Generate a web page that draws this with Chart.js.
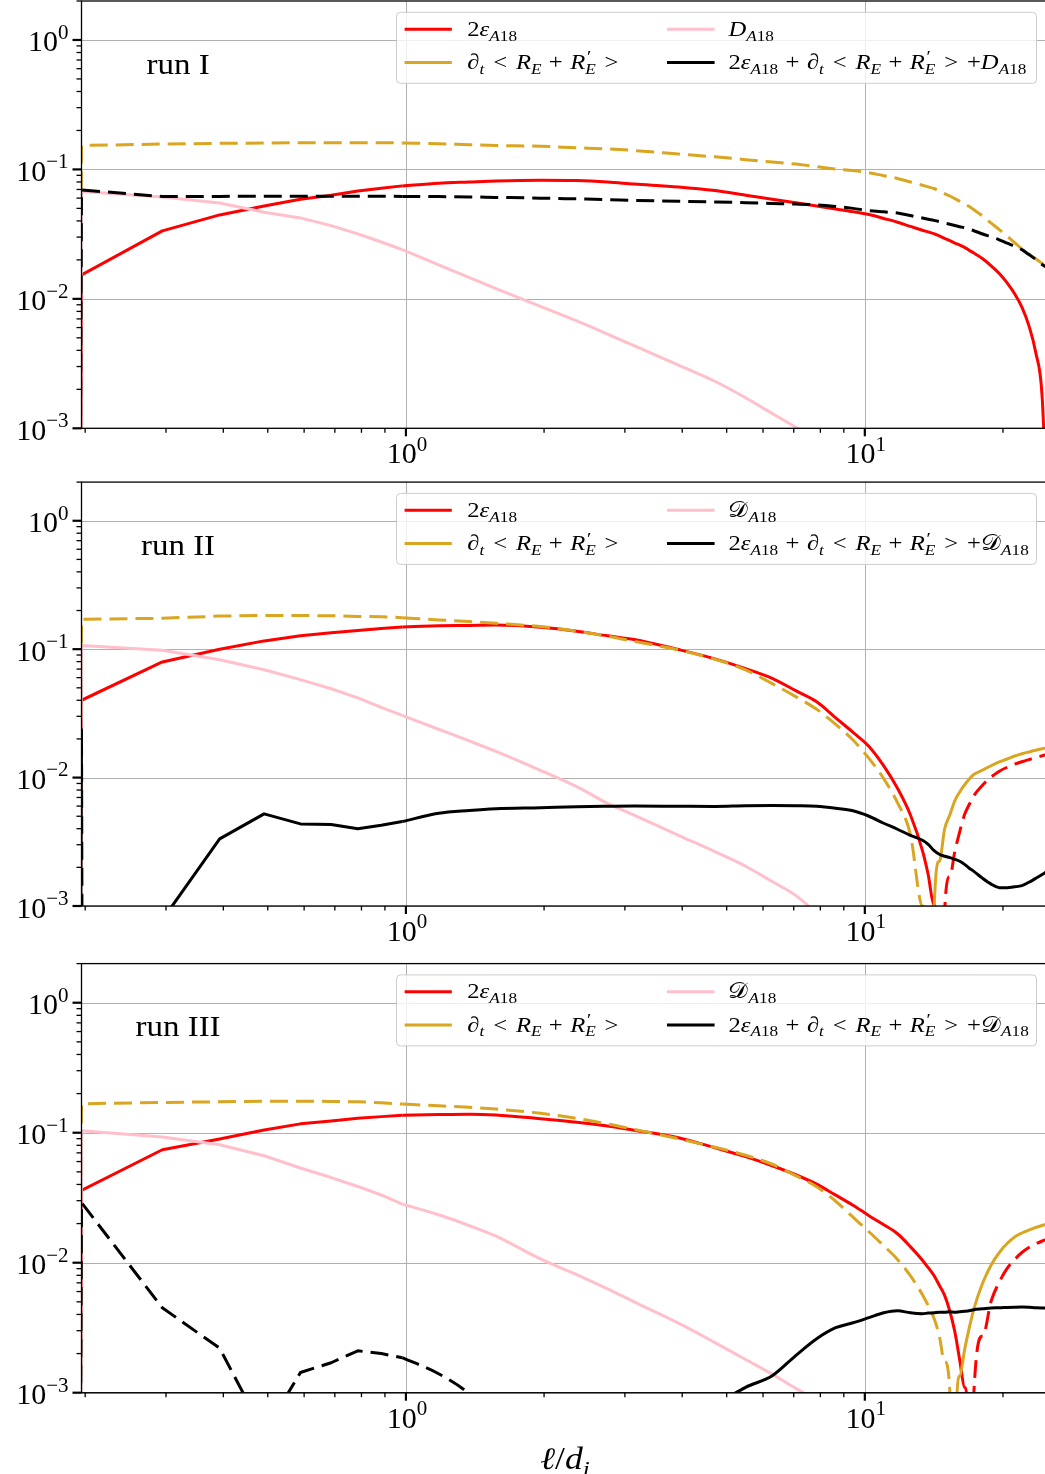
<!DOCTYPE html>
<html>
<head>
<meta charset="utf-8">
<title>Scale-by-scale energy budget, runs I-III</title>
<script src="https://cdn.jsdelivr.net/npm/chart.js@4.4.1/dist/chart.umd.min.js"></script>
<style>
  html, body { margin: 0; padding: 0; background: #ffffff; overflow: hidden; }
  body { position: relative; width: 1045px; height: 1474px; }
  .panel { position: absolute; left: 0; }
  canvas { display: block; }
</style>
</head>
<body>
<div class="panel" id="wrap1" style="top:0px"><canvas id="run1" width="1050" height="479"></canvas></div>
<div class="panel" id="wrap2" style="top:480px"><canvas id="run2" width="1050" height="476"></canvas></div>
<div class="panel" id="wrap3" style="top:960px"><canvas id="run3" width="1050" height="514"></canvas></div>
<script>
// ---- data -------------------------------------------------------------
// increment scale ell / d_i (k * pi / 32)
const ell = [0.09817, 0.19635, 0.29452, 0.39270, 0.49087, 0.58905, 0.68722, 0.78540, 0.88357, 0.98175,
  1.1781, 1.3744, 1.5708, 1.9635, 2.3562, 2.7489, 3.1416,
  3.9270, 4.7124, 5.4978, 6.2832, 7.0686, 7.8540, 8.6394, 9.4248,
  10.210, 10.996, 11.781, 12.566, 13.352,
  13.744, 14.137, 14.530, 14.923, 15.315, 15.708, 16.101, 16.493, 16.886, 17.279,
  18.064, 18.850, 19.635, 20.420, 21.206, 21.991, 22.777, 23.562, 24.347, 25.133];

// run I
const eps1 = [0, 0.0153, 0.0335, 0.0445, 0.0522, 0.0589, 0.0631, 0.0682, 0.0714, 0.0746,
  0.0782, 0.0800, 0.0815, 0.0826, 0.0820, 0.0799, 0.0771,
  0.0732, 0.0686, 0.0632, 0.0589, 0.0553, 0.0522, 0.0495, 0.0472,
  0.0448, 0.0418, 0.0391, 0.0363, 0.0339,
  0.0329, 0.0319, 0.0306, 0.0293, 0.0282, 0.0270, 0.0260, 0.0250, 0.0237, 0.0226,
  0.0204, 0.0180, 0.0157, 0.0133, 0.01094, 0.00864, 0.00621, 0.00389, 0.00174, 0.0001];
const rate1 = [0, -0.153, -0.157, -0.159, -0.160, -0.161, -0.161, -0.161, -0.161, -0.160,
  -0.158, -0.155, -0.153, -0.151, -0.147, -0.144, -0.140,
  -0.1315, -0.125, -0.119, -0.114, -0.110, -0.105, -0.1007, -0.098,
  -0.0943, -0.0894, -0.0851, -0.0800, -0.0755,
  -0.0733, -0.0712, -0.0680, -0.0650, -0.0623, -0.0594, -0.0567, -0.0542, -0.0516, -0.0488,
  -0.0436, -0.0385, -0.0343, -0.0305, -0.0272, -0.0243, -0.0222, -0.0204, -0.0188, -0.0174];
const diss1 = [0, 0.0674, 0.0613, 0.0551, 0.0467, 0.0422, 0.0368, 0.0318, 0.0275, 0.0240,
  0.0183, 0.0146, 0.0120, 0.00874, 0.00675, 0.00535, 0.00435,
  0.00308, 0.00231, 0.00172, 0.00130, 0.00102, 0.00082, null, null,
  null, null, null, null, null,
  null, null, null, null, null, null, null, null, null, null,
  null, null, null, null, null, null, null, null, null, null];
const sum1 = [0, -0.0695, -0.0617, -0.0619, -0.0620, -0.0621, -0.0621, -0.0620, -0.0620, -0.0619,
  -0.0617, -0.0613, -0.0608, -0.0600, -0.0592, -0.0585, -0.0576,
  -0.0568, -0.0561, -0.0553, -0.0546, -0.0540, -0.0532, -0.0517, -0.0500,
  -0.0481, -0.0470, -0.0460, -0.0440, -0.0421,
  -0.0412, -0.0404, -0.0395, -0.0385, -0.0377, -0.0369, -0.0361, -0.0354, -0.0345, -0.0336,
  -0.0317, -0.0301, -0.0286, -0.0269, -0.0255, -0.0240, -0.0220, -0.0202, -0.0184, -0.0172];

// run II
const eps2 = [0, 0.040, 0.0795, 0.100, 0.116, 0.127, 0.134, 0.140, 0.145, 0.149,
  0.152, 0.153, 0.154, 0.148, 0.138, 0.127, 0.119,
  0.0993, 0.0841, 0.0706, 0.0593, 0.0475, 0.0389, 0.0292, 0.02253,
  0.01747, 0.01234, 0.00825, 0.00513, 0.0027,
  0.00175, 0.00102, 0.0001, -0.0009, -0.0017, -0.00266, -0.0038, -0.00515, -0.00617, -0.00723,
  -0.00877, -0.0101, -0.01122, -0.01203, -0.01272, -0.01328, -0.01379, -0.01429, -0.01478, -0.01527];
const rate2 = [0, -0.171, -0.174, -0.181, -0.183, -0.183, -0.182, -0.180, -0.179, -0.176,
  -0.169, -0.164, -0.159, -0.150, -0.138, -0.126, -0.115,
  -0.0986, -0.0834, -0.0689, -0.0539, -0.0427, -0.0340, -0.0260, -0.0196,
  -0.0141, -0.0098, -0.00638, -0.00362, -0.0010,
  -0.0002, 0.0008, 0.00222, 0.00398, 0.00511, 0.00660, 0.00773, 0.00876, 0.00975, 0.01057,
  0.01146, 0.01236, 0.01323, 0.01396, 0.01473, 0.01532, 0.01583, 0.01632, 0.01676, 0.01716];
const diss2 = [0, 0.107, 0.098, 0.0828, 0.0692, 0.0579, 0.0492, 0.0417, 0.0352, 0.0305,
  0.0238, 0.0193, 0.0160, 0.0114, 0.0085, 0.0063, 0.0051,
  0.00355, 0.00265, 0.00204, 0.00155, 0.00121, 0.00088, null, null,
  null, null, null, null, null,
  null, null, null, null, null, null, null, null, null, null,
  null, null, null, null, null, null, null, null, null, null];
const sum2 = [0, -0.0237, 0.00078, 0.00333, 0.00522, 0.00436, 0.00431, 0.00399, 0.00425, 0.00455,
  0.00527, 0.00554, 0.00571, 0.00582, 0.00593, 0.00598, 0.00601,
  0.00598, 0.00596, 0.00603, 0.00605, 0.00603, 0.00598, 0.00577, 0.00551,
  0.00500, 0.00441, 0.00396, 0.00355, 0.00325,
  0.00302, 0.00271, 0.00253, 0.00244, 0.00238, 0.00231, 0.00223, 0.00211, 0.00197, 0.00186,
  0.00164, 0.00148, 0.00139, 0.00139, 0.00141, 0.00144, 0.00153, 0.00164, 0.00176, 0.00190];

// run III
const eps3 = [0, 0.036, 0.074, 0.0894, 0.105, 0.117, 0.123, 0.129, 0.133, 0.136,
  0.138, 0.139, 0.137, 0.128, 0.1205, 0.1126, 0.1045,
  0.0916, 0.0766, 0.0654, 0.0557, 0.0475, 0.0402, 0.0331, 0.0277,
  0.0230, 0.0196, 0.0167, 0.0133, 0.01045,
  0.00916, 0.0080, 0.0067, 0.00561, 0.00425, 0.00294, 0.00178, 0.0011, 0.0002, -0.000986,
  -0.00273, -0.00508, -0.0071, -0.00903, -0.01058, -0.01198, -0.01309, -0.01393, -0.01469, -0.01536];
const rate3 = [0, -0.167, -0.171, -0.173, -0.175, -0.175, -0.174, -0.173, -0.170, -0.166,
  -0.161, -0.157, -0.152, -0.141, -0.129, -0.117, -0.106,
  -0.0899, -0.0773, -0.0671, -0.0572, -0.0467, -0.0384, -0.0297, -0.0224,
  -0.0173, -0.0135, -0.0106, -0.00794, -0.00567,
  -0.00467, -0.00377, -0.00274, -0.00173, -0.00105, 0.0002, 0.001345, 0.00213, 0.00315, 0.00440,
  0.00698, 0.00960, 0.01198, 0.01405, 0.01577, 0.01692, 0.01784, 0.01866, 0.01933, 0.02003];
const diss3 = [0, 0.1036, 0.0927, 0.0809, 0.0665, 0.0535, 0.0452, 0.0386, 0.0332, 0.0282,
  0.0234, 0.0193, 0.0160, 0.0107, 0.0081, 0.0063, 0.0050,
  0.00343, 0.00243, 0.00180, 0.00139, 0.00108, 0.00088, null, null,
  null, null, null, null, null,
  null, null, null, null, null, null, null, null, null, null,
  null, null, null, null, null, null, null, null, null, null];
const sum3 = [0, -0.029, -0.0045, -0.0022, -0.00049, -0.00143, -0.0017, -0.0021, -0.0020, -0.00186,
  -0.0014, -0.00098, -0.0006, null, null, null, null,
  null, 0.0008, 0.0011, 0.00135, 0.00193, 0.0026, 0.00316, 0.00345,
  0.00378, 0.00412, 0.00427, 0.00412, 0.00405,
  0.0041, 0.00412, 0.00416, 0.00416, 0.0042, 0.00416, 0.0042, 0.00423, 0.00427, 0.00435,
  0.00442, 0.00449, 0.0045, 0.00453, 0.00455, 0.00456, 0.00455, 0.0045, 0.00449, 0.00449];

const runNames = ['run I', 'run II', 'run III'];

// axis ticks (log axes)
const xRange = [0.19635, 25.133];
const yRange = [0.001, 2];
const xMajorTicks = [1, 10];
const xTickLabels = [['10', '0'], ['10', '1']];
const xMinorTicks = [0.2, 0.3, 0.4, 0.5, 0.6, 0.7, 0.8, 0.9, 2, 3, 4, 5, 6, 7, 8, 9, 20];
const yMajorTicks = [1, 0.1, 0.01, 0.001];
const yTickLabels = [['10', '0'], ['10', '\u22121'], ['10', '\u22122'], ['10', '\u22123']];
const yMinorTicks = [0.002, 0.003, 0.004, 0.005, 0.006, 0.007, 0.008, 0.009,
  0.02, 0.03, 0.04, 0.05, 0.06, 0.07, 0.08, 0.09,
  0.2, 0.3, 0.4, 0.5, 0.6, 0.7, 0.8, 0.9, 2];

// ---- styling ----------------------------------------------------------
const COLORS = { eps: '#ff0000', rate: '#daa520', diss: '#ffc0cb', sum: '#000000' };
const SERIF = '"Liberation Serif", "DejaVu Serif", "DejaVu Sans", serif';
const LINE_W = 3;
const DASH = [18, 8];
const TINY = 1e-300;     // log axes clip non-positive values to a tiny positive number
const SMOOTH_FROM = 9;   // from l = 0.98 on the sampled points are joined by a monotone curve

// rich math-like text: [text, kind]; r roman, i italic, R/I subscript, S superscript, p prime (no advance), g gap (em)
function fontFor(kind, size) {
  const italic = kind === 'i' || kind === 'I';
  const small = kind === 'I' || kind === 'R' || kind === 'S';
  const s = kind === 'p' ? size * 0.8 : (small ? size * 0.7 : size);
  return (italic ? 'italic ' : '') + s.toFixed(1) + 'px ' + SERIF;
}
function shiftFor(kind, size) {
  if (kind === 'I' || kind === 'R') return 0.22 * size;
  if (kind === 'S') return -0.42 * size;
  if (kind === 'p') return -0.30 * size;
  return 0;
}
function layoutRich(ctx, parts, size, sx) {
  let x = 0;
  const items = [];
  for (const [t, kind] of parts) {
    if (kind === 'g') { x += t * size * sx; continue; }
    ctx.font = fontFor(kind, size);
    const w = ctx.measureText(t).width * sx;
    items.push({ t, kind, x: kind === 'p' ? x + 0.08 * size : x });
    if (kind !== 'p') x += w;
  }
  return { items, width: x };
}
function drawRich(ctx, parts, x, y, size, align, sx) {
  sx = sx || 1;
  const L = layoutRich(ctx, parts, size, sx);
  const x0 = align === 'center' ? x - L.width / 2 : (align === 'right' ? x - L.width : x);
  ctx.save();
  ctx.fillStyle = '#000';
  ctx.textAlign = 'left';
  ctx.textBaseline = 'alphabetic';
  for (const it of L.items) {
    ctx.font = fontFor(it.kind, size);
    ctx.save();
    ctx.translate(x0 + it.x, y + shiftFor(it.kind, size));
    ctx.scale(sx, 1);
    ctx.fillText(it.t, 0, 0);
    ctx.restore();
  }
  ctx.restore();
  return L.width;
}

// legend entries
const REL = 0.36, BIN = 0.30;
const EPS = [['2', 'r'], ['\u03b5', 'i'], ['A', 'I'], ['18', 'R']];
const DPLAIN = [['D', 'i'], ['A', 'I'], ['18', 'R']];
const DCAL = [['\u{1D49F}', 'r'], ['A', 'I'], ['18', 'R']];
const RATE = [['\u2202', 'i'], ['t', 'I'], [REL, 'g'], ['<', 'r'], [REL, 'g'], ['R', 'i'], ['E', 'I'],
  [BIN, 'g'], ['+', 'r'], [BIN, 'g'], ['R', 'i'], ['\u2032', 'p'], ['E', 'I'], [REL, 'g'], ['>', 'r']];
function sumLabel(D) {
  return [...EPS, [BIN, 'g'], ['+', 'r'], [BIN, 'g'], ...RATE, [REL, 'g'], ['+', 'r'], ...D];
}
const XTITLE = [['\u2113', 'i'], ['/', 'r'], ['d', 'i'], ['i', 'I']];

function positivePart(arr) { return arr.map(v => v === null ? null : (v > 0 ? v : TINY)); }
function negativePart(arr) { return arr.map(v => v === null ? null : (v < 0 ? -v : TINY)); }
function toPoints(vals, from, to) {
  const pts = [];
  for (let i = from; i <= to; i++) pts.push({ x: ell[i], y: vals[i] });
  return pts;
}

const panels = [
  { canvas: 'run1', padTop: 1,   padBottom: 50.7, eps: eps1, rate: rate1, diss: diss1, sum: sum1, name: runNames[0], calD: false, xTitle: false },
  { canvas: 'run2', padTop: 2.1, padBottom: 50,   eps: eps2, rate: rate2, diss: diss2, sum: sum2, name: runNames[1], calD: true,  xTitle: false },
  { canvas: 'run3', padTop: 3.6, padBottom: 81.3, eps: eps3, rate: rate3, diss: diss3, sum: sum3, name: runNames[2], calD: true,  xTitle: true }
];

function buildDatasets(p) {
  const series = [
    { values: p.eps, color: COLORS.eps },
    { values: p.rate, color: COLORS.rate },
    { values: p.diss, color: COLORS.diss },
    { values: p.sum, color: COLORS.sum }
  ];
  const common = { pointRadius: 0, pointHoverRadius: 0, pointHitRadius: 0, fill: false,
    borderWidth: LINE_W, clip: 0, borderJoinStyle: 'round', borderCapStyle: 'butt', spanGaps: false };
  const last = ell.length - 1;
  const sets = [];
  let order = series.length * 4;
  for (const s of series) {
    const parts = [
      { vals: positivePart(s.values), dash: [] },        // positive values: solid
      { vals: negativePart(s.values), dash: DASH }       // negative values (magnitude): dashed
    ];
    for (const part of parts) {
      // coarse small-scale points joined by straight segments
      sets.push(Object.assign({}, common, { data: toPoints(part.vals, 0, SMOOTH_FROM), tension: 0,
        borderColor: s.color, borderDash: part.dash, order: order-- }));
      // densely resolved larger scales drawn as a smooth curve
      sets.push(Object.assign({}, common, { data: toPoints(part.vals, SMOOTH_FROM, last), cubicInterpolationMode: 'monotone',
        borderColor: s.color, borderDash: part.dash, order: order-- }));
    }
  }
  return sets;
}

function decorPlugin(p) {
  return {
    id: 'decor_' + p.canvas,
    beforeDatasetsDraw(chart) {
      const { ctx, chartArea: a, scales: { x, y } } = chart;
      ctx.save();
      ctx.strokeStyle = '#b0b0b0';
      ctx.lineWidth = 1;
      for (const v of xMajorTicks) {
        const px = Math.round(x.getPixelForValue(v)) + 0.5;
        ctx.beginPath(); ctx.moveTo(px, a.top); ctx.lineTo(px, a.bottom); ctx.stroke();
      }
      for (const v of yMajorTicks) {
        const py = Math.round(y.getPixelForValue(v)) + 0.5;
        ctx.beginPath(); ctx.moveTo(a.left, py); ctx.lineTo(a.right, py); ctx.stroke();
      }
      ctx.restore();
    },
    afterDatasetsDraw(chart) {
      const { ctx, chartArea: a, scales: { x, y } } = chart;
      ctx.save();
      // spines
      ctx.strokeStyle = '#000';
      ctx.lineWidth = 1.3;
      ctx.strokeRect(a.left, a.top, a.right - a.left, a.bottom - a.top);
      // tick marks
      ctx.lineCap = 'butt';
      const tick = (x0, y0, x1, y1, w) => { ctx.lineWidth = w; ctx.beginPath(); ctx.moveTo(x0, y0); ctx.lineTo(x1, y1); ctx.stroke(); };
      for (const v of xMajorTicks) { const px = x.getPixelForValue(v); tick(px, a.bottom, px, a.bottom + 8, 2.2); }
      for (const v of xMinorTicks) { const px = x.getPixelForValue(v); tick(px, a.bottom, px, a.bottom + 4.5, 1.3); }
      for (const v of yMajorTicks) { const py = y.getPixelForValue(v); tick(a.left, py, a.left - 9, py, 2.2); }
      for (const v of yMinorTicks) { const py = y.getPixelForValue(v); tick(a.left, py, a.left - 5, py, 1.3); }
      // tick labels
      xMajorTicks.forEach((v, i) => {
        const [b, e] = xTickLabels[i];
        drawRich(ctx, [[b, 'r'], [e, 'S']], x.getPixelForValue(v) + 1, a.bottom + 35, 30, 'center');
      });
      yMajorTicks.forEach((v, i) => {
        const [b, e] = yTickLabels[i];
        drawRich(ctx, [[b, 'r'], [e, 'S']], a.left - 13, y.getPixelForValue(v) + 11.5, 30, 'right');
      });
      // run label
      drawRich(ctx, [[p.name, 'r']], 178, a.top + 72.5, 30, 'center', 1.1);
      // legend
      const T = a.top;
      const bx = 396.5, bw = 640, by = T + 11.3, bh = 71;
      ctx.beginPath();
      if (ctx.roundRect) ctx.roundRect(bx, by, bw, bh, 4); else ctx.rect(bx, by, bw, bh);
      ctx.fillStyle = 'rgba(255,255,255,0.8)';
      ctx.fill();
      ctx.strokeStyle = '#cccccc';
      ctx.lineWidth = 1;
      ctx.stroke();
      const D = p.calD ? DCAL : DPLAIN;
      const entries = [
        { col: 0, row: 0, color: COLORS.eps, label: EPS },
        { col: 0, row: 1, color: COLORS.rate, label: RATE },
        { col: 1, row: 0, color: COLORS.diss, label: D },
        { col: 1, row: 1, color: COLORS.sum, label: sumLabel(D) }
      ];
      const colHandle = [[404.6, 451.8], [667, 714.6]];
      const colText = [467.3, 728.4];
      const rowY = [T + 28.2, T + 61.5];
      for (const en of entries) {
        const yy = rowY[en.row];
        ctx.strokeStyle = en.color;
        ctx.lineWidth = LINE_W;
        ctx.beginPath(); ctx.moveTo(colHandle[en.col][0], yy); ctx.lineTo(colHandle[en.col][1], yy); ctx.stroke();
        drawRich(ctx, en.label, colText[en.col], yy + 6.5, 22, 'left', 1.12);
      }
      // x-axis title
      if (p.xTitle) drawRich(ctx, XTITLE, (a.left + a.right) / 2, a.bottom + 76, 31, 'center', 1.15);
      ctx.restore();
    }
  };
}

for (const p of panels) {
  new Chart(document.getElementById(p.canvas), {
    type: 'line',
    data: { datasets: buildDatasets(p) },
    options: {
      responsive: false,
      animation: false,
      devicePixelRatio: 1,
      events: [],
      layout: { padding: { left: 81.5, right: 1.5, top: p.padTop, bottom: p.padBottom } },
      plugins: { legend: { display: false }, tooltip: { enabled: false } },
      scales: {
        x: { type: 'logarithmic', min: xRange[0], max: xRange[1], display: false },
        y: { type: 'logarithmic', min: yRange[0], max: yRange[1], display: false }
      }
    },
    plugins: [decorPlugin(p)]
  });
}
</script>
</body>
</html>
